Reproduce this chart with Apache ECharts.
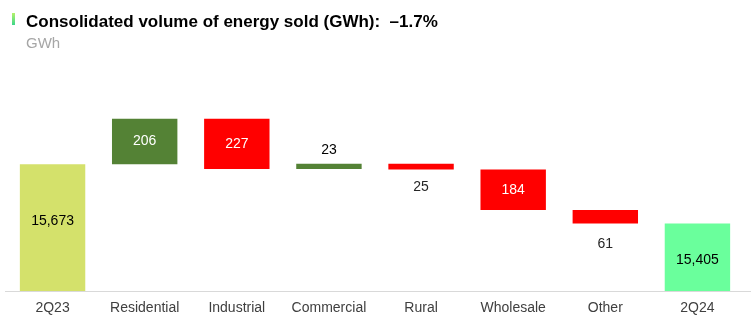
<!DOCTYPE html>
<html>
<head>
<meta charset="utf-8">
<script src="https://cdn.jsdelivr.net/npm/echarts@6/dist/echarts.min.js"></script>
<style>
html,body{margin:0;padding:0;background:#fff;}
#chart{width:751px;height:324px;}
</style>
</head>
<body>
<div id="chart"></div>
<script>
const categories = ['2Q23', 'Residential', 'Industrial', 'Commercial', 'Rural', 'Wholesale', 'Other', '2Q24'];
const startValue = 15673;
const endValue = 15405;
const changes = [206, -227, 23, -25, -184, -61];
const titleText = 'Consolidated volume of energy sold (GWh):  \u20131.7%';
const unitText = 'GWh';

const colStart = '#D4E16B';
const colUp = '#548235';
const colDown = '#FF0000';
const colEnd = '#6AFF9C';
// label distance for small bars' outside labels (style only)
const smallLabelDist = { 3: 7, 4: 11, 6: 14 };

// Build waterfall from the data
const baseData = ['-'];
const barData = [];
barData.push({
  value: startValue,
  itemStyle: { color: colStart },
  label: { show: true, position: 'inside', color: '#000', offset: [0, -7] }
});
let running = startValue;
changes.forEach(function (c, i) {
  const next = running + c;
  baseData.push(Math.min(running, next));
  const small = Math.abs(c) < 100;
  barData.push({
    value: Math.abs(c),
    itemStyle: { color: c >= 0 ? colUp : colDown },
    label: small
      ? { show: true, position: c >= 0 ? 'top' : 'bottom', color: c >= 0 ? '#000' : '#262626', distance: smallLabelDist[i + 1] || 8 }
      : { show: true, position: 'inside', color: '#fff' }
  });
  running = next;
});
baseData.push('-');
barData.push({
  value: endValue,
  itemStyle: { color: colEnd },
  label: { show: true, position: 'inside', color: '#000', offset: [0, 3] }
});

const FONT = 'Liberation Sans, Arial, sans-serif';
const chart = echarts.init(document.getElementById('chart'));
chart.setOption({
  animation: false,
  backgroundColor: '#fff',
  textStyle: { fontFamily: FONT },
  title: [
    {
      text: titleText,
      left: 21, top: 9,
      textStyle: { fontSize: 17, fontWeight: 'bold', color: '#000', fontFamily: FONT }
    },
    {
      text: unitText,
      left: 21, top: 31,
      textStyle: { fontSize: 15, fontWeight: 'normal', color: '#A6A6A6', fontFamily: FONT }
    }
  ],
  graphic: [
    {
      type: 'rect',
      shape: { x: 12, y: 13, width: 3, height: 12 },
      style: {
        fill: new echarts.graphic.LinearGradient(0, 0, 0, 1, [
          { offset: 0, color: '#B5F26A' },
          { offset: 1, color: '#3CD68A' }
        ])
      }
    },
    {
      type: 'line',
      shape: { x1: 5, y1: 291.5, x2: 751, y2: 291.5 },
      style: { stroke: '#D9D9D9', lineWidth: 1 },
      z: 0
    }
  ],
  grid: { left: 6.5, right: 7.5, top: 92, bottom: 33, containLabel: false },
  xAxis: {
    type: 'category',
    data: categories,
    axisLine: { show: false },
    axisTick: { show: false },
    axisLabel: { color: '#404040', fontSize: 14, margin: 10, interval: 0, fontFamily: FONT }
  },
  yAxis: {
    type: 'value',
    min: 15100,
    max: 16000,
    show: false,
    splitLine: { show: false }
  },
  series: [
    {
      name: 'base',
      type: 'bar',
      stack: 'wf',
      data: baseData,
      itemStyle: { color: 'transparent' },
      emphasis: { disabled: true },
      barWidth: '71%'
    },
    {
      name: 'value',
      type: 'bar',
      stack: 'wf',
      data: barData,
      barWidth: '71%',
      label: {
        show: true,
        fontSize: 14,
        fontFamily: FONT,
        formatter: function (p) { return p.value.toLocaleString('en-US'); }
      }
    }
  ]
});
</script>
</body>
</html>
